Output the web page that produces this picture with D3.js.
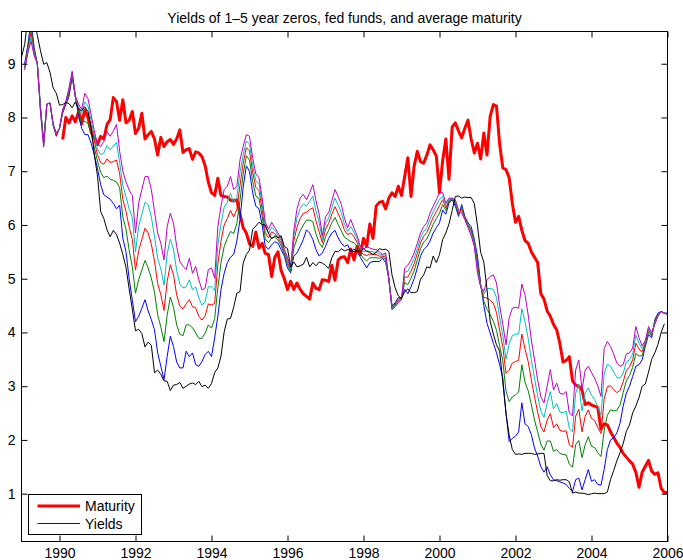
<!DOCTYPE html>
<html><head><meta charset="utf-8">
<script src="https://cdn.jsdelivr.net/npm/d3@7/dist/d3.min.js"></script>
<style>
body{margin:0;background:#fff}
svg{display:block;font-family:"Liberation Sans",Arial,Helvetica,sans-serif}
</style>
</head><body>
<svg id="chart" width="683" height="560"></svg>
<script>
const titleText = "Yields of 1\u20135 year zeros, fed funds, and average maturity";
const xTickValues = [1990,1992,1994,1996,1998,2000,2002,2004,2006];
const yTickValues = [1,2,3,4,5,6,7,8,9];
const legendLabels = ["Maturity","Yields"];

// monthly data; yields are end-of-month, first value = Jan 1989 (plotted at 1989 + 1/12)
const yieldFirstMonth = 1;
// fed funds monthly, first value = Jan 1989 (plotted at 1989 + 0/12)
const fedFirstMonth = 0;
// maturity, first value = Jan 1990 (plotted at 1989 + 13/12)
const maturityFirstMonth = 13;

const yield1 = [
9.00,9.35,9.80,9.30,9.00,8.20,7.55,8.25,8.27,7.85,7.65,7.80,
8.08,8.24,8.39,8.75,8.38,8.05,7.80,7.68,7.68,7.52,7.30,7.05,
6.75,6.56,6.52,6.48,6.40,6.30,6.37,5.75,5.50,5.00,4.60,4.20,
4.30,4.45,4.61,4.40,4.24,4.05,3.62,3.37,3.12,3.55,3.93,3.74,
3.45,3.34,3.34,3.65,3.55,3.62,3.40,3.37,3.46,3.59,3.65,3.55,
3.90,4.30,4.80,5.10,5.30,5.40,5.45,5.70,6.10,6.70,7.10,7.00,
6.60,6.35,6.30,6.00,5.60,5.55,5.63,5.69,5.66,5.54,5.42,5.20,
5.11,5.42,5.48,5.60,5.73,5.91,5.85,5.73,5.54,5.42,5.48,5.60,
5.75,5.85,5.90,5.76,5.66,5.60,5.63,5.50,5.55,5.50,5.40,5.30,
5.20,5.30,5.32,5.32,5.32,5.38,5.30,5.00,4.50,4.55,4.65,4.65,
4.80,4.72,4.85,5.00,5.20,5.42,5.54,5.60,5.70,5.85,5.95,6.04,
6.28,6.20,6.41,6.47,6.35,6.16,6.38,6.16,6.04,5.97,5.73,5.42,
4.90,4.50,4.17,3.99,3.80,3.62,3.40,3.15,2.50,1.97,2.03,2.07,
2.15,2.69,2.30,2.25,2.10,1.85,1.70,1.50,1.40,1.50,1.35,1.26,
1.24,1.22,1.20,1.17,1.10,1.04,1.26,1.29,1.07,1.26,1.45,1.23,
1.26,1.17,1.16,1.45,1.82,2.00,2.04,2.13,2.31,2.63,2.87,3.00,
3.18,3.37,3.40,3.49,3.74,3.96,3.90,4.24,4.36,4.39,4.36,4.36];

const yield2 = [
8.96,9.30,9.68,9.25,9.00,8.17,7.52,8.25,8.27,7.86,7.67,7.80,
8.10,8.26,8.44,8.79,8.39,8.11,7.91,7.93,7.89,7.69,7.44,7.19,
6.98,6.88,6.91,6.85,6.83,6.80,6.69,6.15,5.92,5.53,5.22,4.73,
4.98,5.16,5.34,5.20,5.01,4.75,4.33,4.10,3.83,4.32,4.66,4.47,
4.14,3.97,3.94,4.14,4.14,4.09,3.99,3.89,3.89,3.99,4.14,4.08,
4.26,4.83,5.30,5.60,5.75,5.88,5.84,6.03,6.46,6.94,7.29,7.21,
6.81,6.54,6.49,6.16,5.74,5.67,5.76,5.77,5.72,5.61,5.46,5.26,
5.14,5.57,5.74,5.89,6.00,6.09,6.09,6.06,5.83,5.67,5.58,5.78,
5.90,6.04,6.14,6.01,5.89,5.77,5.73,5.69,5.67,5.60,5.46,5.38,
5.33,5.39,5.39,5.39,5.38,5.40,5.36,5.00,4.47,4.53,4.62,4.64,
4.93,4.89,5.01,5.15,5.35,5.56,5.68,5.74,5.87,6.01,6.12,6.22,
6.38,6.27,6.44,6.48,6.39,6.20,6.33,6.14,6.01,5.92,5.69,5.32,
4.88,4.58,4.43,4.33,4.21,4.04,3.75,3.47,2.91,2.71,2.80,2.84,
2.89,3.40,3.07,2.92,2.66,2.37,2.15,1.92,1.81,1.98,1.98,1.79,
1.82,1.75,1.73,1.72,1.55,1.49,1.91,1.99,1.67,1.91,2.06,1.88,
1.86,1.76,1.69,2.17,2.46,2.56,2.54,2.55,2.65,2.88,3.10,3.20,
3.35,3.61,3.56,3.57,3.78,4.01,3.93,4.21,4.34,4.39,4.36,4.35];

const yield3 = [
8.93,9.26,9.58,9.21,9.00,8.14,7.49,8.25,8.27,7.87,7.68,7.80,
8.12,8.27,8.48,8.81,8.39,8.17,8.00,8.13,8.07,7.83,7.56,7.31,
7.16,7.13,7.23,7.16,7.18,7.21,6.95,6.48,6.25,5.96,5.73,5.16,
5.52,5.73,5.94,5.85,5.64,5.33,4.91,4.70,4.41,4.95,5.26,5.07,
4.70,4.49,4.44,4.53,4.61,4.48,4.46,4.30,4.23,4.31,4.53,4.51,
4.54,5.27,5.70,6.00,6.12,6.27,6.15,6.29,6.74,7.14,7.44,7.38,
6.98,6.70,6.64,6.29,5.86,5.76,5.87,5.84,5.77,5.66,5.50,5.32,
5.16,5.70,5.96,6.12,6.22,6.23,6.29,6.32,6.07,5.87,5.67,5.92,
6.03,6.20,6.34,6.21,6.08,5.90,5.82,5.85,5.78,5.67,5.52,5.45,
5.43,5.46,5.45,5.45,5.42,5.42,5.40,5.00,4.45,4.51,4.59,4.63,
5.03,5.03,5.14,5.28,5.47,5.67,5.79,5.86,6.00,6.14,6.25,6.36,
6.47,6.32,6.46,6.49,6.42,6.23,6.29,6.13,5.99,5.87,5.65,5.23,
4.87,4.65,4.64,4.60,4.54,4.37,4.04,3.73,3.24,3.30,3.43,3.46,
3.48,3.97,3.69,3.46,3.12,2.80,2.52,2.25,2.15,2.37,2.49,2.23,
2.30,2.18,2.16,2.17,1.91,1.86,2.44,2.57,2.15,2.44,2.56,2.40,
2.36,2.23,2.12,2.76,2.99,3.01,2.94,2.88,2.92,3.08,3.29,3.36,
3.49,3.80,3.69,3.64,3.80,4.05,3.95,4.19,4.33,4.39,4.36,4.34];

const yield4 = [
8.91,9.23,9.50,9.18,9.00,8.12,7.47,8.25,8.27,7.87,7.70,7.80,
8.14,8.29,8.52,8.84,8.40,8.21,8.08,8.29,8.21,7.94,7.66,7.41,
7.31,7.34,7.48,7.40,7.47,7.54,7.16,6.74,6.53,6.30,6.14,5.50,
5.97,6.20,6.42,6.38,6.15,5.79,5.38,5.18,4.88,5.46,5.74,5.55,
5.15,4.90,4.83,4.85,4.98,4.79,4.85,4.64,4.51,4.57,4.85,4.85,
4.78,5.62,6.02,6.33,6.42,6.59,6.41,6.51,6.98,7.30,7.56,7.51,
7.11,6.82,6.76,6.40,5.96,5.84,5.96,5.90,5.81,5.71,5.52,5.36,
5.18,5.80,6.13,6.31,6.39,6.35,6.44,6.54,6.26,6.04,5.73,6.03,
6.13,6.32,6.50,6.37,6.23,6.01,5.88,5.97,5.86,5.74,5.56,5.50,
5.52,5.51,5.50,5.49,5.46,5.44,5.44,5.00,4.44,4.49,4.57,4.62,
5.12,5.14,5.25,5.38,5.56,5.76,5.88,5.95,6.11,6.25,6.36,6.48,
6.53,6.37,6.48,6.49,6.44,6.25,6.25,6.11,5.97,5.84,5.63,5.17,
4.86,4.71,4.81,4.82,4.80,4.65,4.27,3.94,3.50,3.79,3.94,3.97,
3.97,4.44,4.20,3.89,3.49,3.15,2.82,2.53,2.42,2.69,2.90,2.58,
2.68,2.52,2.50,2.54,2.21,2.15,2.87,3.03,2.54,2.87,2.97,2.83,
2.75,2.62,2.46,3.23,3.41,3.37,3.27,3.16,3.15,3.24,3.45,3.49,
3.60,3.95,3.80,3.70,3.83,4.08,3.97,4.17,4.31,4.39,4.36,4.34];

const yield5 = [
8.88,9.20,9.42,9.15,9.00,8.10,7.45,8.25,8.27,7.88,7.71,7.80,
8.15,8.30,8.55,8.86,8.40,8.25,8.15,8.45,8.35,8.05,7.75,7.50,
7.46,7.55,7.74,7.65,7.75,7.87,7.37,7.00,6.80,6.65,6.55,5.85,
6.41,6.66,6.90,6.90,6.66,6.25,5.85,5.66,5.35,5.97,6.22,6.03,
5.60,5.32,5.23,5.17,5.38,5.10,5.23,4.98,4.79,4.83,5.17,5.20,
5.01,5.97,6.35,6.66,6.72,6.90,6.66,6.72,7.21,7.46,7.68,7.65,
7.25,6.95,6.88,6.50,6.05,5.92,6.05,5.95,5.85,5.75,5.55,5.40,
5.20,5.90,6.30,6.50,6.57,6.47,6.60,6.75,6.45,6.20,5.80,6.15,
6.23,6.45,6.66,6.53,6.38,6.12,5.95,6.10,5.94,5.80,5.60,5.55,
5.60,5.57,5.55,5.54,5.50,5.45,5.48,5.00,4.42,4.48,4.55,4.61,
5.20,5.25,5.35,5.48,5.66,5.85,5.97,6.04,6.22,6.35,6.47,6.60,
6.60,6.41,6.50,6.50,6.47,6.28,6.22,6.10,5.95,5.80,5.60,5.10,
4.85,4.76,4.98,5.04,5.07,4.92,4.50,4.15,3.77,4.27,4.45,4.47,
4.45,4.90,4.70,4.33,3.86,3.49,3.12,2.80,2.69,3.00,3.31,2.93,
3.06,2.87,2.85,2.90,2.50,2.45,3.30,3.49,2.93,3.30,3.37,3.25,
3.15,3.00,2.81,3.70,3.83,3.74,3.60,3.43,3.37,3.40,3.60,3.62,
3.71,4.11,3.90,3.75,3.85,4.11,3.99,4.15,4.30,4.39,4.36,4.33];

const fedFunds = [
9.12,9.36,9.85,9.84,9.81,9.53,9.24,8.99,9.02,8.84,8.55,8.45,
8.23,8.24,8.28,8.26,8.18,8.29,8.15,8.13,8.20,8.11,7.81,7.31,
6.91,6.25,6.12,5.91,5.78,5.90,5.82,5.66,5.45,5.21,4.81,4.43,
4.03,4.06,3.98,3.73,3.82,3.76,3.25,3.30,3.22,3.10,3.09,2.92,
3.02,3.03,3.07,2.96,3.00,3.04,3.06,3.03,3.09,2.99,3.02,2.96,
3.05,3.25,3.34,3.56,4.01,4.25,4.26,4.47,4.73,4.76,5.29,5.45,
5.53,5.92,5.98,6.05,6.01,6.00,5.85,5.74,5.80,5.76,5.80,5.60,
5.56,5.22,5.31,5.22,5.24,5.27,5.40,5.22,5.30,5.24,5.31,5.29,
5.25,5.19,5.39,5.51,5.50,5.56,5.52,5.54,5.54,5.50,5.52,5.50,
5.56,5.51,5.49,5.45,5.49,5.56,5.54,5.55,5.51,5.07,4.83,4.68,
4.63,4.76,4.81,4.74,4.74,4.76,4.99,5.07,5.22,5.20,5.42,5.30,
5.45,5.73,5.85,6.02,6.27,6.53,6.54,6.50,6.52,6.51,6.51,6.40,
5.98,5.49,5.31,4.80,4.21,3.97,3.77,3.65,3.07,2.49,2.09,1.82,
1.73,1.74,1.73,1.75,1.75,1.75,1.73,1.74,1.75,1.75,1.34,1.24,
1.24,1.26,1.25,1.26,1.26,1.22,1.01,1.03,1.01,1.01,1.00,0.98,
1.00,1.01,1.00,1.00,1.00,1.03,1.26,1.43,1.61,1.76,1.93,2.16,
2.28,2.50,2.63,2.79,3.00,3.04,3.26,3.50,3.62,3.78,4.00,4.16];

const maturity = [
7.59,8.00,7.90,8.03,7.92,8.10,7.88,8.14,8.00,7.73,7.62,7.50,
7.65,7.60,7.87,7.96,8.37,8.30,7.95,8.33,7.90,7.95,8.11,7.70,
7.80,8.08,7.60,7.68,7.74,7.60,7.30,7.63,7.46,7.55,7.59,7.50,
7.60,7.77,7.35,7.40,7.42,7.22,7.36,7.34,7.27,7.10,6.80,6.60,
6.55,6.87,6.55,6.53,6.52,6.46,6.45,6.47,6.20,5.95,5.85,5.65,
5.60,5.87,5.57,5.66,5.47,5.45,5.04,5.40,5.50,5.15,5.00,4.80,
4.95,4.80,4.92,4.80,4.72,4.67,4.62,4.92,4.82,4.80,4.98,4.97,
4.95,5.25,4.97,5.35,5.40,5.41,5.30,5.55,5.35,5.60,5.45,5.75,
5.60,6.02,5.75,6.35,6.42,6.44,6.30,6.50,6.60,6.53,6.72,6.55,
6.90,7.25,6.53,7.10,7.37,7.18,7.15,7.30,7.49,7.40,7.28,6.60,
7.20,7.60,6.85,7.82,7.90,7.75,7.62,7.80,7.95,7.60,7.34,7.52,
7.23,7.71,7.30,8.02,8.24,8.21,7.50,7.06,7.03,6.88,6.40,6.05,
6.16,5.90,5.71,5.66,5.50,5.40,5.30,4.72,4.62,4.40,4.30,4.15,
4.05,3.80,3.45,3.48,3.55,3.10,3.02,3.00,2.93,2.66,2.69,2.65,
2.63,2.60,2.20,2.30,2.28,2.15,2.05,1.94,1.86,1.75,1.68,1.61,
1.55,1.40,1.12,1.40,1.51,1.62,1.42,1.36,1.39,1.10,1.02,1.02];

const yieldColors = ["#0000ff","#008000","#ff0000","#00bfbf","#bf00bf"];

const svg = d3.select("#chart");
const L = 21.5, R = 667.5, T = 31.5, B = 541.5;
const x = d3.scaleLinear().domain([1989, 2006]).range([L, R]);
const y = d3.scaleLinear().domain([0.11, 9.6]).range([B, T]);

const toPts = (arr, first) => arr.map((v, i) => ({t: 1989 + (first + i) / 12, v}));
const line = d3.line().x(d => x(d.t)).y(d => y(d.v));

svg.append("defs").append("clipPath").attr("id", "clip")
  .append("rect").attr("x", L).attr("y", T).attr("width", R - L).attr("height", B - T);

const plot = svg.append("g").attr("clip-path", "url(#clip)");

plot.append("path").attr("d", line(toPts(maturity, maturityFirstMonth)))
  .attr("fill", "none").attr("stroke", "#ff0000").attr("stroke-width", 3)
  .attr("stroke-linejoin", "round");

[yield1, yield2, yield3, yield4, yield5].forEach((s, i) => {
  plot.append("path").attr("d", line(toPts(s, yieldFirstMonth)))
    .attr("fill", "none").attr("stroke", yieldColors[i]).attr("stroke-width", 1);
});

plot.append("path").attr("d", line(toPts(fedFunds, fedFirstMonth)))
  .attr("fill", "none").attr("stroke", "#000").attr("stroke-width", 1);

// axes (Matlab style: ticks pointing inward on all four sides)
const fs = 14;
const gx = svg.append("g").attr("transform", `translate(0,${B})`)
  .call(d3.axisBottom(x).tickValues(xTickValues).tickSize(-6).tickPadding(7).tickFormat(d3.format("d")));
const gxt = svg.append("g").attr("transform", `translate(0,${T})`)
  .call(d3.axisTop(x).tickValues(xTickValues).tickSize(-6).tickFormat(""));
const gy = svg.append("g").attr("transform", `translate(${L},0)`)
  .call(d3.axisLeft(y).tickValues(yTickValues).tickSize(-6).tickPadding(6).tickFormat(d3.format("d")));
const gyr = svg.append("g").attr("transform", `translate(${R},0)`)
  .call(d3.axisRight(y).tickValues(yTickValues).tickSize(-6).tickFormat(""));
[gx, gxt, gy, gyr].forEach(g => {
  g.select(".domain").remove();
  g.selectAll("line").attr("stroke", "#000");
  g.selectAll("text").attr("font-size", fs).attr("font-family", "Liberation Sans, Arial, sans-serif").attr("fill", "#000");
});
svg.append("rect").attr("x", L).attr("y", T).attr("width", R - L).attr("height", B - T)
  .attr("fill", "none").attr("stroke", "#000").attr("stroke-width", 1);

svg.append("text").attr("x", (L + R) / 2).attr("y", 23).attr("text-anchor", "middle")
  .attr("font-size", fs).text(titleText);

// legend
const lg = svg.append("g");
lg.append("rect").attr("x", 28.5).attr("y", 494.5).attr("width", 113).attr("height", 40)
  .attr("fill", "#fff").attr("stroke", "#000").attr("stroke-width", 1);
const legendStyles = [{c: "#ff0000", w: 3, y: 506}, {c: "#0000ff", w: 1, y: 523.5}];
legendLabels.forEach((lab, i) => {
  const s = legendStyles[i];
  lg.append("line").attr("x1", 37.5).attr("x2", 80).attr("y1", s.y).attr("y2", s.y)
    .attr("stroke", s.c).attr("stroke-width", s.w);
  lg.append("text").attr("x", 85).attr("y", s.y + 5).attr("font-size", fs).text(lab);
});
</script>
</body></html>
